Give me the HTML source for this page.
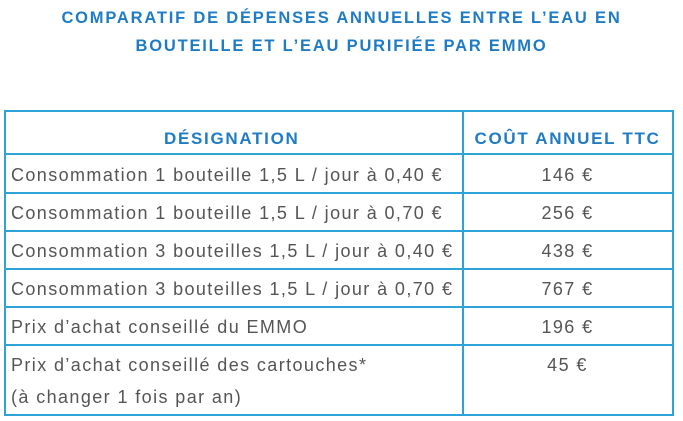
<!DOCTYPE html>
<html><head><meta charset="utf-8"><style>
body{margin:0;width:683px;height:421px;background:#fff;font-family:"Liberation Sans",sans-serif;position:relative;overflow:hidden}
.t{position:absolute;left:0;width:683px;text-align:center;color:#1f7cc4;font-weight:bold;font-size:16.5px;line-height:28px;top:4px;letter-spacing:1.8px}
.tb{position:absolute;left:4px;top:110px;width:666px;height:302px;border:2px solid #2ea3da;box-sizing:content-box}
.h{position:absolute;left:0;height:1.5px;width:666px;background:#2ea3da}
.v{position:absolute;left:456px;top:0;width:1.5px;height:302px;background:#2ea3da}
.c{position:absolute;color:#555;font-size:18px;white-space:nowrap;letter-spacing:1.4px}
.hd{position:absolute;color:#1f7cc4;font-weight:bold;font-size:17px;top:17px;letter-spacing:1.7px}
.r{width:209px;left:457px;text-align:center}
</style></head><body>
<div class="t">COMPARATIF DE DÉPENSES ANNUELLES ENTRE L’EAU EN<br>BOUTEILLE ET L’EAU PURIFIÉE PAR EMMO</div>
<div class="tb">
<div class="v"></div>
<div class="h" style="top:41px"></div>
<div class="h" style="top:80px"></div>
<div class="h" style="top:118px"></div>
<div class="h" style="top:156px"></div>
<div class="h" style="top:194px"></div>
<div class="h" style="top:232px"></div>
<div class="hd" style="left:158px">DÉSIGNATION</div>
<div class="hd r" style="left:457px">COÛT ANNUEL TTC</div>
<div class="c" style="left:5px;top:53px">Consommation 1 bouteille 1,5 L / jour à 0,40 €</div>
<div class="c r" style="top:53px">146 €</div>
<div class="c" style="left:5px;top:91px">Consommation 1 bouteille 1,5 L / jour à 0,70 €</div>
<div class="c r" style="top:91px">256 €</div>
<div class="c" style="left:5px;top:129px">Consommation 3 bouteilles 1,5 L / jour à 0,40 €</div>
<div class="c r" style="top:129px">438 €</div>
<div class="c" style="left:5px;top:167px">Consommation 3 bouteilles 1,5 L / jour à 0,70 €</div>
<div class="c r" style="top:167px">767 €</div>
<div class="c" style="left:5px;top:205px">Prix d’achat conseillé du EMMO</div>
<div class="c r" style="top:205px">196 €</div>
<div class="c" style="left:5px;top:243px">Prix d’achat conseillé des cartouches*</div>
<div class="c r" style="top:243px">45 €</div>
<div class="c" style="left:5px;top:275px">(à changer 1 fois par an)</div>
</div>
</body></html>
